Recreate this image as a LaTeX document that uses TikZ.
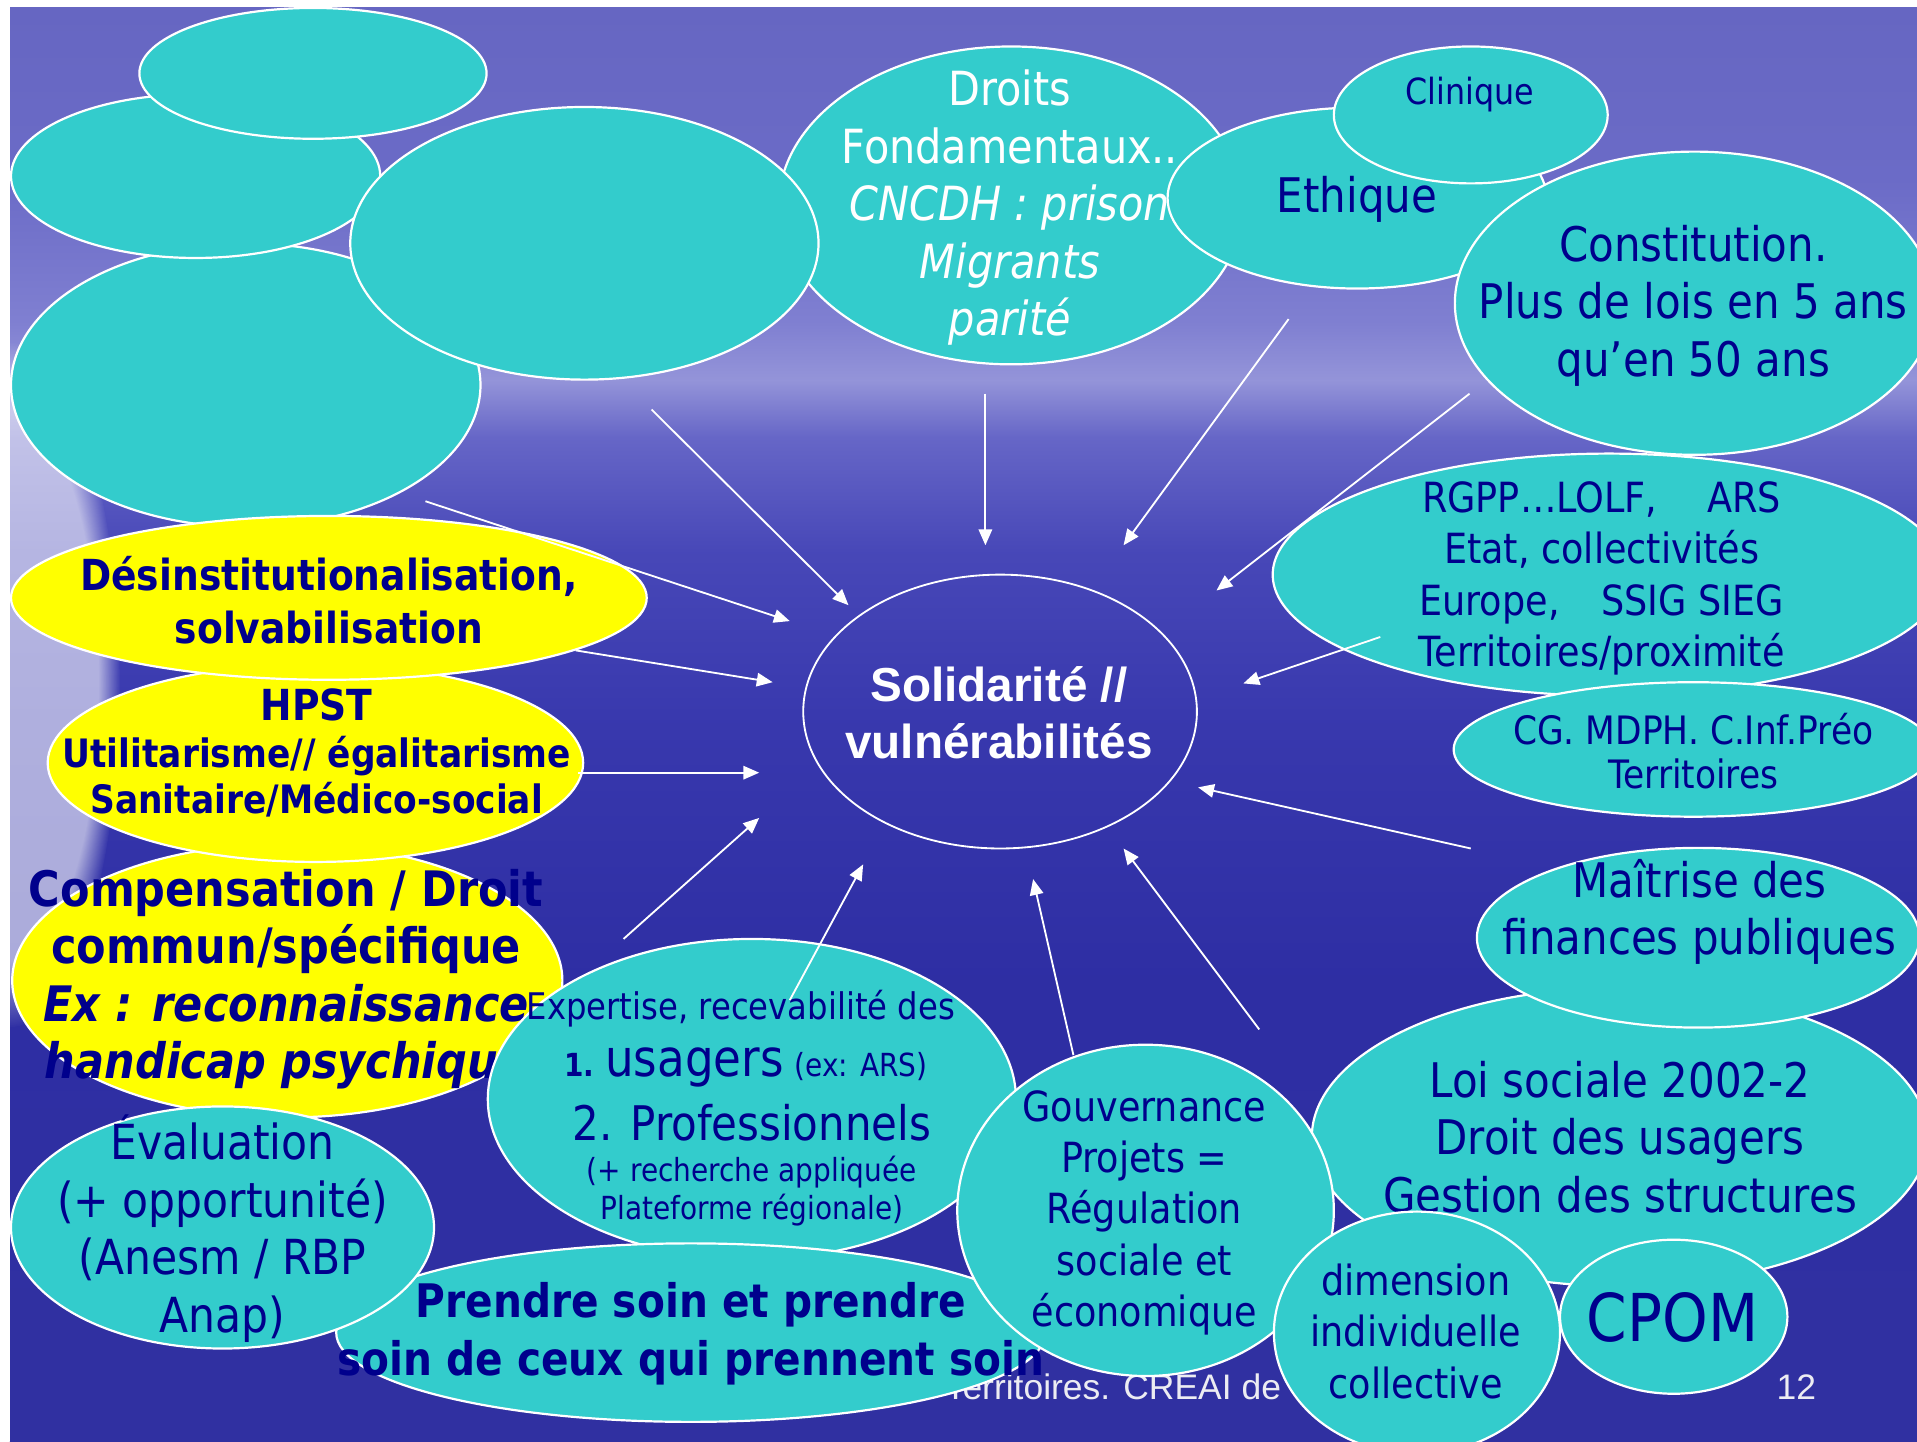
\documentclass[tikz,border=0pt]{standalone}
\usepackage{fontspec}
\setmainfont{DejaVu Sans}[FakeStretch=0.88]
\newfontfamily\arialfont{Liberation Sans}
\usetikzlibrary{shapes.geometric, arrows.meta, positioning, fadings}

\definecolor{bubblecyan}{RGB}{51,204,204}
\definecolor{sunyellow}{RGB}{255,255,0}
\definecolor{inkblue}{RGB}{0,0,140}
\definecolor{footgray}{RGB}{236,236,242}

\pgfdeclareverticalshading{seasky}{100bp}{
    rgb(0bp)=(0.19,0.19,0.63);
    rgb(25bp)=(0.19,0.19,0.63);
    rgb(41bp)=(0.18,0.18,0.64);
    rgb(50bp)=(0.22,0.22,0.68);
    rgb(56bp)=(0.28,0.28,0.72);
    rgb(60bp)=(0.40,0.40,0.78);
    rgb(62bp)=(0.58,0.58,0.85);
    rgb(64bp)=(0.50,0.50,0.82);
    rgb(69bp)=(0.42,0.42,0.78);
    rgb(75bp)=(0.40,0.40,0.76);
    rgb(100bp)=(0.40,0.40,0.76)}

\newcommand{\fsz}[2]{\fontsize{#1}{#2}\selectfont}

\begin{document}
\begin{tikzpicture}[
    x=1pt, y=-1pt,
    bubble/.style={ellipse, draw=white, line width=1.8pt, fill=bubblecyan, inner sep=0pt},
    sunny/.style={bubble, fill=sunyellow},
    txt/.style={text=inkblue, align=center, inner sep=0pt},
    link/.style={draw=white, line width=1.5pt, -{Triangle[length=13pt, width=11pt]}}
]
    % Background
    \useasboundingbox (0,0) rectangle (1568,1179);
    \fill[white] (0,0) rectangle (1568,1179);
    \shade[shading=seasky] (8,6) rectangle (1568,1179);
    \fill[white, opacity=0.6, path fading=circle with fuzzy edge 20 percent] (8,560) ellipse (90 and 280);
    \fill[white] (0,0) rectangle (8,1179);

    % Footer
    \node[anchor=base east, inner sep=0pt, text=footgray, font=\arialfont\fsz{29}{34}] (footer) at (1048,1145) {Territoires. CREAI de};
    \node[anchor=base west, inner sep=0pt, text=footgray, font=\arialfont\fsz{29}{34}] (pagenum) at (1453,1145) {12};

    % Top bubbles
    \node[bubble, minimum width=384pt, minimum height=232pt] (blankC) at (201,315) {};
    \node[bubble, minimum width=302pt, minimum height=134pt] (blankB) at (160,144) {};
    \node[bubble, minimum width=284pt, minimum height=107pt] (blankA) at (256,60) {};
    \node[bubble, minimum width=380pt, minimum height=260pt] (droits) at (827,168) {};
    \node[txt, text=white, font=\fsz{38.5}{47}] (droits-t) at (826,170)
        {Droits\\Fondamentaux..\\\textit{CNCDH : prison}\\\textit{Migrants}\\\textit{parité}};
    \node[bubble, minimum width=383pt, minimum height=223pt] (blankD) at (478,199) {};
    \node[bubble, minimum width=310pt, minimum height=148pt] (ethique) at (1110,162) {};
    \node[txt, font=\fsz{39}{46}] (ethique-t) at (1110,163) {Ethique};
    \node[bubble, minimum width=224pt, minimum height=112pt] (clinique) at (1203,94) {};
    \node[txt, font=\fsz{29.5}{35}] (clinique-t) at (1202,77) {Clinique};
    \node[bubble, minimum width=392pt, minimum height=248pt] (constitution) at (1386,248) {};
    \node[txt, font=\fsz{39}{47}] (constitution-t) at (1385,250)
        {Constitution.\\Plus de lois en 5 ans\\qu’en 50 ans};

    % Right bubbles
    \node[bubble, minimum width=550pt, minimum height=198pt] (rgpp) at (1316,470) {};
    \node[txt, font=\fsz{34}{42}] (rgpp-t) at (1310,473)
        {RGPP…LOLF,\hspace{1.2em}ARS\\Etat, collectivités\\Europe,\hspace{1em}SSIG SIEG\\Territoires/proximité};
    \node[bubble, minimum width=392pt, minimum height=110pt] (cg) at (1385,613) {};
    \node[txt, font=\fsz{32}{36}] (cg-t) at (1385,614) {CG. MDPH. C.Inf.Préo\\Territoires};
    \node[bubble, minimum width=504pt, minimum height=244pt] (loi) at (1325,930) {};
    \node[txt, font=\fsz{39}{47}] (loi-t) at (1325,930)
        {Loi sociale 2002-2\\Droit des usagers\\Gestion des structures};
    \node[bubble, minimum width=362pt, minimum height=147pt] (maitrise) at (1389,767) {};
    \node[txt, font=\fsz{39}{47}] (maitrise-t) at (1390,746) {Maîtrise des\\finances publiques};

    % Left bubbles
    \node[sunny, minimum width=450pt, minimum height=224pt] (compensation) at (235,802) {};
    \node[txt, font=\bfseries\fsz{40}{47}] (compensation-t) at (234,801)
        {Compensation / Droit\\commun/spécifique\\\textit{Ex : reconnaissance}\\\textit{handicap psychique}};
    \node[sunny, minimum width=438pt, minimum height=162pt] (hpst) at (258,624) {};
    \node[txt, font=\bfseries\fsz{32}{38}] (hpst-t) at (259,616)
        {{\fsz{35}{38}HPST}\\Utilitarisme// égalitarisme\\Sanitaire/Médico-social};
    \node[sunny, minimum width=520pt, minimum height=134pt] (desinst) at (269,489) {};
    \node[txt, font=\bfseries\fsz{35}{43}] (desinst-t) at (269,491)
        {Désinstitutionalisation,\\solvabilisation};

    % Bottom bubbles
    \node[bubble, minimum width=432pt, minimum height=262pt] (expertise) at (615,899) {};
    \node[txt, font=\fsz{30}{36}] (expertise-l1) at (606,825) {Expertise, recevabilité des};
    \node[txt] (expertise-l2) at (610,873)
        {{\fsz{26}{30}\bfseries 1.}\hspace{9pt}{\fsz{42}{48}usagers}\hspace{9pt}{\fsz{26}{30}(ex: ARS)}};
    \node[txt, font=\fsz{39}{46}] (expertise-l3) at (615,918) {2. Professionnels};
    \node[txt, font=\fsz{26}{31}] (expertise-l4) at (615,974)
        {(+ recherche appliquée\\Plateforme régionale)};
    \node[bubble, minimum width=580pt, minimum height=146pt] (prendre) at (565,1090) {};
    \node[bubble, minimum width=346pt, minimum height=198pt] (evaluation) at (182,1004) {};
    \node[txt, font=\fsz{39.5}{47}] (evaluation-t) at (182,1005)
        {Évaluation\\(+ opportunité)\\(Anesm / RBP\\Anap)};
    \node[bubble, minimum width=308pt, minimum height=271pt] (gouvernance) at (937,990) {};
    \node[txt, font=\fsz{34}{42}] (gouvernance-t) at (936,992)
        {Gouvernance\\Projets =\\Régulation\\sociale et\\économique};
    \node[txt, font=\bfseries\fsz{37.8}{47}] (prendre-t) at (565,1091)
        {Prendre soin et prendre\\soin de ceux qui prennent soin};
    \node[bubble, minimum width=234pt, minimum height=198pt] (dimension) at (1159,1090) {};
    \node[txt, font=\fsz{34}{42}] (dimension-t) at (1158,1089) {dimension\\individuelle\\collective};
    \node[bubble, minimum width=186pt, minimum height=126pt] (cpom) at (1369,1077) {};
    \node[txt, font=\fsz{54}{60}] (cpom-t) at (1368,1078) {CPOM};

    % Centre
    \node[ellipse, draw=white, line width=1.5pt, minimum width=322pt, minimum height=224pt, inner sep=0pt] (sol) at (818,582) {};
    \node[align=center, inner sep=0pt, text=white, font=\arialfont\bfseries\fsz{39}{47}] (sol-t) at (817,583)
        {Solidarité //\\vulnérabilités};

    % Arrow ends
    \coordinate (r1) at (533,335);   \coordinate (h1) at (694,495);
    \coordinate (r2) at (348,410);   \coordinate (h2) at (646,508);
    \coordinate (r3) at (806,322);   \coordinate (h3) at (806,446);
    \coordinate (r4) at (1054,261);  \coordinate (h4) at (919,446);
    \coordinate (r5) at (1202,322);  \coordinate (h5) at (995,483);
    \coordinate (r6) at (1129,521);  \coordinate (h6) at (1017,559);
    \coordinate (r7) at (471,532);   \coordinate (h7) at (632,558);
    \coordinate (r8) at (473,632);   \coordinate (h8) at (621,632);
    \coordinate (r9) at (510,768);   \coordinate (h9) at (621,669);
    \coordinate (r10) at (646,818);  \coordinate (h10) at (706,707);
    \coordinate (r11) at (878,863);  \coordinate (h11) at (845,719);
    \coordinate (r12) at (1030,842); \coordinate (h12) at (919,694);
    \coordinate (r13) at (1203,694); \coordinate (h13) at (980,644);

    % Arrows
    \draw[link] (r1) -- (h1);
    \draw[link] (r2) -- (h2);
    \draw[link] (r3) -- (h3);
    \draw[link] (r4) -- (h4);
    \draw[link] (r5) -- (h5);
    \draw[link] (r6) -- (h6);
    \draw[link] (r7) -- (h7);
    \draw[link] (r8) -- (h8);
    \draw[link] (r9) -- (h9);
    \draw[link] (r10) -- (h10);
    \draw[link] (r11) -- (h11);
    \draw[link] (r12) -- (h12);
    \draw[link] (r13) -- (h13);
\end{tikzpicture}
\end{document}
